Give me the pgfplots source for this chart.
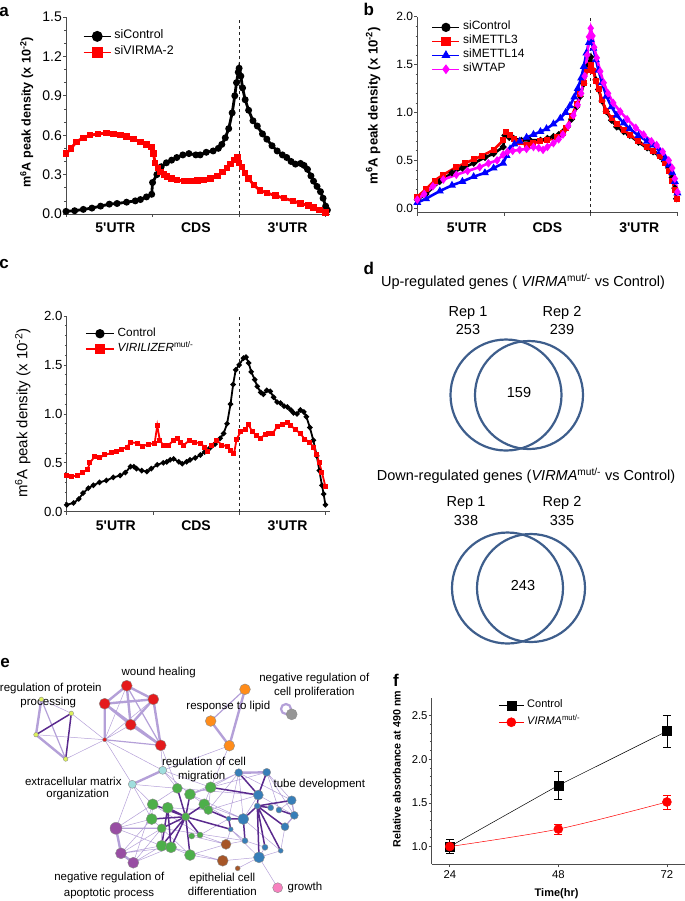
\documentclass[border=0pt]{standalone}
\usepackage{fontspec}
\setmainfont{Liberation Sans}[Ligatures=TeXOff]
\usepackage{pgfplots}
\pgfplotsset{compat=1.18}

\newcommand\fs[1]{\fontsize{#1bp}{#1bp}\selectfont}

\definecolor{sired}{RGB}{255,0,0}
\definecolor{siblue}{RGB}{0,0,255}
\definecolor{simag}{RGB}{255,0,255}
\definecolor{venn}{RGB}{62,94,140}
\definecolor{lpur}{RGB}{180,160,216}
\definecolor{dpur}{RGB}{90,42,142}
\definecolor{nred}{RGB}{228,26,28}
\definecolor{nyel}{RGB}{222,242,90}
\definecolor{nora}{RGB}{255,140,26}
\definecolor{ngray}{RGB}{150,150,150}
\definecolor{ncyan}{RGB}{160,222,222}
\definecolor{ngreen}{RGB}{77,175,74}
\definecolor{npurp}{RGB}{152,78,163}
\definecolor{nblue}{RGB}{55,126,184}
\definecolor{nbrown}{RGB}{166,86,40}
\definecolor{npink}{RGB}{247,129,191}

\tikzset{lbl/.style={inner sep=0pt, text height=0.72em, text depth=0pt, anchor=center}}

\pgfplotsset{
  panel/.style={scale only axis, axis lines*=left, clip=false,
    axis line style={black!70, line width=0.7bp},
    every tick/.append style={black!70, line width=0.7bp},
    tick align=outside, major tick length=3bp, minor tick length=1.8bp,
    /pgf/number format/assume math mode=true,
    legend cell align=left,
    yticklabel style={inner sep=1bp, /pgf/number format/fixed, /pgf/number format/fixed zerofill, /pgf/number format/precision=1}},
  utr/.style={xtick={0,1,2,3}, xticklabels={},
    extra x ticks={0.57,1.5,2.56}, extra x tick labels={5'UTR,CDS,3'UTR},
    extra x tick style={major tick length=0pt, grid=none,
      xticklabel style={font=\bfseries\fs{14}, lbl, yshift=-#1}}},
  leg/.style n args={4}{legend style={at={(axis description cs:#1,#2)}, anchor=north west,
    draw=none, fill=none, inner sep=0pt, row sep=#4, font=\fs{#3},
    nodes={inner sep=0.6bp, text height=0.72em, text depth=0.2em},
    /tikz/every odd column/.append style={column sep=2.5bp}}},
  limg/.style n args={3}{legend image code/.code={\draw[mark repeat=2,mark phase=2,##1,line width=#3,mark size=#2]
    plot coordinates {(0bp,0bp)(#1/2,0bp)(#1,0bp)};}},
  nn/.style 2 args={only marks, mark=*, mark size=#2bp, draw=black!45, fill=#1,
    mark options={draw=black!45, fill=#1, line width=0.4bp}}
}

\begin{document}
\begin{tikzpicture}
\path[use as bounding box] (0bp,0bp) rectangle (685bp,-901bp);

% ---------- a ----------
\begin{axis}[panel, utr=15bp, at={(66bp,-214bp)}, anchor=south west,
  width=264bp, height=197bp, xmin=0, xmax=3.05, ymin=0, ymax=1.5,
  ytick={0,0.3,0.6,0.9,1.2,1.5}, minor y tick num=2,
  yticklabel style={font=\fs{14}},
  ylabel={m\textsuperscript{6}A peak density (x 10\textsuperscript{-2})},
  ylabel style={font=\bfseries\fs{12.6}, at={(axis description cs:-0.149,0.515)}, anchor=center},
  leg={0.064}{0.929}{12.4}{5.5bp}, limg={27bp}{4.8bp}{1.3bp}]
\addplot[black!85, dashed, line width=0.8bp, forget plot] coordinates {(2,0)(2,1.5)};
\addplot[black, line width=2.8bp, mark=*, mark size=2bp, mark options={solid}] coordinates {
(0,0.02)(0.1,0.025)(0.2,0.035)(0.3,0.045)(0.4,0.06)(0.5,0.075)(0.59,0.08)(0.7,0.09)(0.8,0.10)
(0.86,0.11)(0.93,0.13)(0.99,0.15)(1.0,0.24)(1.05,0.30)(1.1,0.36)(1.16,0.39)(1.22,0.41)(1.28,0.43)
(1.35,0.45)(1.42,0.46)(1.5,0.45)(1.55,0.45)(1.62,0.47)(1.7,0.48)(1.76,0.50)(1.8,0.53)(1.84,0.58)
(1.88,0.65)(1.92,0.77)(1.95,0.90)(1.97,1.00)(1.99,1.08)(2.0,1.11)(2.02,1.05)(2.04,0.96)(2.07,0.87)
(2.11,0.79)(2.16,0.71)(2.21,0.67)(2.27,0.61)(2.32,0.57)(2.38,0.52)(2.44,0.48)(2.5,0.45)(2.55,0.43)
(2.6,0.40)(2.65,0.38)(2.71,0.385)(2.75,0.37)(2.79,0.34)(2.83,0.29)(2.86,0.25)(2.9,0.21)(2.94,0.17)
(2.97,0.12)(3.0,0.06)(3.02,0.03)};
\addplot[sired, line width=2.8bp, mark=square*, mark size=1.8bp, mark options={solid}] coordinates {
(0,0.46)(0.06,0.50)(0.12,0.55)(0.2,0.58)(0.28,0.60)(0.37,0.61)(0.47,0.615)(0.55,0.61)(0.63,0.60)
(0.7,0.59)(0.78,0.57)(0.86,0.55)(0.93,0.53)(0.99,0.51)(1.01,0.46)(1.03,0.39)(1.06,0.35)(1.09,0.32)
(1.13,0.30)(1.17,0.285)(1.22,0.27)(1.28,0.26)(1.36,0.25)(1.44,0.25)(1.52,0.255)(1.59,0.26)(1.67,0.27)
(1.75,0.29)(1.81,0.32)(1.86,0.35)(1.9,0.38)(1.94,0.41)(1.98,0.43)(2.0,0.39)(2.03,0.36)(2.07,0.31)
(2.11,0.27)(2.17,0.22)(2.24,0.18)(2.32,0.16)(2.42,0.14)(2.52,0.12)(2.62,0.10)(2.71,0.08)(2.8,0.065)
(2.86,0.05)(2.93,0.03)(3.0,0.01)};
\legend{siControl, siVIRMA-2}
\end{axis}

% ---------- b ----------
\begin{axis}[panel, utr=16.3bp, at={(417.3bp,-212.7bp)}, anchor=south west,
  width=261bp, height=196bp, xmin=0, xmax=3.01, ymin=-0.046, ymax=2.0,
  ytick={0,0.5,1,1.5,2}, minor y tick num=4,
  yticklabel style={font=\fs{12}},
  ylabel={m\textsuperscript{6}A peak density (x 10\textsuperscript{-2})},
  ylabel style={font=\bfseries\fs{13.2}, at={(axis description cs:-0.169,0.545)}, anchor=center},
  leg={0.055}{0.973}{12}{3.6bp}, limg={27bp}{4bp}{1.2bp}]
\addplot[black!85, dashed, line width=0.8bp, forget plot] coordinates {(2,-0.046)(2,2)};
\addplot[black, line width=2.6bp, mark=*, mark size=1.8bp, mark options={solid}] coordinates {
(0,0.09)(0.1,0.15)(0.26,0.28)(0.4,0.37)(0.52,0.42)(0.65,0.47)(0.78,0.53)(0.88,0.57)(0.99,0.64)
(1.01,0.76)(1.06,0.74)(1.11,0.73)(1.2,0.71)(1.3,0.71)(1.42,0.71)(1.5,0.73)(1.57,0.75)(1.63,0.77)
(1.68,0.80)(1.73,0.85)(1.78,0.93)(1.84,1.06)(1.88,1.17)(1.92,1.30)(1.96,1.48)(2.0,1.58)(2.03,1.44)
(2.06,1.34)(2.09,1.24)(2.13,1.12)(2.18,1.01)(2.24,0.92)(2.3,0.85)(2.38,0.80)(2.45,0.76)(2.55,0.69)
(2.65,0.63)(2.72,0.59)(2.8,0.54)(2.85,0.49)(2.9,0.42)(2.94,0.32)(2.97,0.21)(2.99,0.10)};
\addplot[sired, line width=2.6bp, mark=square*, mark size=1.7bp, mark options={solid}] coordinates {
(0,0.12)(0.1,0.20)(0.2,0.29)(0.3,0.35)(0.45,0.43)(0.55,0.47)(0.65,0.51)(0.75,0.55)(0.88,0.61)
(0.99,0.71)(1.02,0.80)(1.07,0.76)(1.12,0.72)(1.18,0.69)(1.26,0.66)(1.34,0.68)(1.42,0.70)(1.5,0.71)
(1.61,0.74)(1.68,0.79)(1.72,0.84)(1.78,0.96)(1.84,1.09)(1.88,1.19)(1.92,1.31)(1.96,1.44)(2.0,1.50)
(2.03,1.43)(2.06,1.33)(2.09,1.25)(2.13,1.13)(2.18,1.02)(2.24,0.94)(2.3,0.88)(2.38,0.82)(2.45,0.77)
(2.55,0.70)(2.65,0.64)(2.72,0.60)(2.8,0.55)(2.86,0.47)(2.9,0.39)(2.94,0.29)(2.97,0.19)(2.99,0.10)};
\addplot[siblue, line width=2.6bp, mark=triangle*, mark size=2bp, mark options={solid}] coordinates {
(0,0.06)(0.1,0.10)(0.26,0.18)(0.4,0.24)(0.52,0.28)(0.65,0.33)(0.78,0.37)(0.88,0.42)(0.99,0.47)
(1.03,0.55)(1.07,0.62)(1.12,0.67)(1.18,0.70)(1.26,0.74)(1.34,0.77)(1.42,0.80)(1.49,0.83)(1.57,0.88)
(1.65,0.94)(1.71,1.00)(1.76,1.07)(1.81,1.16)(1.85,1.25)(1.89,1.36)(1.92,1.48)(1.95,1.62)(1.98,1.73)
(2.0,1.76)(2.03,1.67)(2.06,1.55)(2.09,1.44)(2.13,1.31)(2.18,1.17)(2.24,1.06)(2.3,0.97)(2.38,0.89)
(2.45,0.83)(2.55,0.76)(2.65,0.70)(2.72,0.66)(2.8,0.59)(2.86,0.52)(2.9,0.45)(2.94,0.37)(2.97,0.28)(3.0,0.16)};
\addplot[simag, line width=2.6bp, mark=diamond*, mark size=2.2bp, mark options={solid}] coordinates {
(0,0.09)(0.08,0.15)(0.18,0.23)(0.3,0.30)(0.45,0.35)(0.58,0.39)(0.72,0.43)(0.82,0.47)(0.92,0.50)
(0.99,0.56)(1.04,0.59)(1.1,0.60)(1.18,0.61)(1.26,0.62)(1.34,0.64)(1.4,0.63)(1.45,0.61)(1.5,0.64)
(1.57,0.68)(1.63,0.72)(1.68,0.77)(1.74,0.86)(1.8,0.97)(1.85,1.08)(1.89,1.20)(1.93,1.38)(1.96,1.60)
(1.98,1.79)(2.0,1.88)(2.02,1.80)(2.04,1.68)(2.07,1.57)(2.11,1.43)(2.15,1.31)(2.2,1.20)(2.26,1.10)
(2.34,1.01)(2.42,0.93)(2.52,0.84)(2.61,0.77)(2.7,0.70)(2.76,0.66)(2.83,0.59)(2.9,0.50)(2.94,0.42)
(2.97,0.31)(3.0,0.17)};
\legend{siControl, siMETTL3, siMETTL14, siWTAP}
\end{axis}

% ---------- c ----------
\begin{axis}[panel, utr=15.6bp, at={(66.7bp,-511.7bp)}, anchor=south west,
  width=263bp, height=195.7bp, xmin=0, xmax=3.05, ymin=0, ymax=2.0,
  ytick={0,0.5,1,1.5,2}, minor y tick num=4,
  yticklabel style={font=\fs{13.2}},
  ylabel={m\textsuperscript{6}A peak density (x 10\textsuperscript{-2})},
  ylabel style={font=\fs{15}, at={(axis description cs:-0.167,0.504)}, anchor=center},
  leg={0.07}{0.937}{11.8}{5bp}, limg={28bp}{4bp}{1.3bp}]
\addplot[black!85, dashed, line width=0.8bp, forget plot] coordinates {(2,0)(2,2)};
\addplot[black, line width=1.8bp, mark=*, mark size=1.7bp, mark options={solid}] coordinates {
(0,0.07)(0.08,0.09)(0.14,0.13)(0.19,0.19)(0.25,0.24)(0.31,0.27)(0.38,0.30)(0.46,0.32)(0.54,0.35)
(0.62,0.37)(0.68,0.40)(0.74,0.46)(0.78,0.46)(0.81,0.44)(0.87,0.42)(0.93,0.41)(0.98,0.44)(1.05,0.48)
(1.12,0.50)(1.16,0.51)(1.2,0.53)(1.24,0.54)(1.3,0.51)(1.34,0.49)(1.39,0.51)(1.43,0.53)(1.49,0.55)
(1.55,0.58)(1.6,0.61)(1.66,0.65)(1.72,0.69)(1.78,0.75)(1.82,0.80)(1.86,0.90)(1.9,1.10)(1.93,1.30)
(1.96,1.45)(2.0,1.50)(2.05,1.57)(2.08,1.58)(2.11,1.52)(2.14,1.43)(2.18,1.35)(2.21,1.28)(2.25,1.22)
(2.28,1.20)(2.32,1.24)(2.36,1.23)(2.4,1.17)(2.44,1.12)(2.48,1.11)(2.52,1.08)(2.56,1.07)(2.6,1.04)
(2.63,1.01)(2.67,1.00)(2.71,1.04)(2.75,1.02)(2.78,0.97)(2.82,0.86)(2.86,0.73)(2.9,0.57)(2.93,0.42)
(2.96,0.27)(2.98,0.18)(3.0,0.07)};
\addplot[sired, line width=1.8bp, mark=square*, mark size=1.6bp, mark options={solid}] coordinates {
(0,0.37)(0.06,0.36)(0.12,0.37)(0.18,0.40)(0.24,0.43)(0.27,0.50)(0.32,0.56)(0.38,0.55)(0.44,0.58)
(0.52,0.60)(0.58,0.62)(0.64,0.64)(0.7,0.66)(0.74,0.71)(0.82,0.70)(0.88,0.67)(0.95,0.69)(1.02,0.70)
(1.05,0.88)(1.08,0.73)(1.12,0.68)(1.18,0.68)(1.24,0.73)(1.28,0.75)(1.32,0.71)(1.36,0.68)(1.42,0.73)
(1.48,0.71)(1.55,0.70)(1.6,0.66)(1.63,0.62)(1.68,0.68)(1.74,0.73)(1.8,0.68)(1.86,0.67)(1.9,0.63)
(1.94,0.59)(1.97,0.74)(2.02,0.82)(2.07,0.84)(2.11,0.89)(2.15,0.82)(2.2,0.78)(2.25,0.75)(2.3,0.79)
(2.34,0.80)(2.39,0.80)(2.44,0.87)(2.5,0.89)(2.56,0.91)(2.6,0.88)(2.65,0.84)(2.71,0.80)(2.76,0.74)
(2.82,0.71)(2.86,0.66)(2.9,0.58)(2.93,0.50)(2.96,0.40)(3.0,0.26)};
\legend{Control, \textit{VIRILIZER}\textsuperscript{mut/-}}
\end{axis}

% ---------- f ----------
\begin{axis}[panel, at={(431.7bp,-864bp)}, anchor=south west,
  width=253.3bp, height=166bp, xmin=20, xmax=76, ymin=0.8, ymax=2.7,
  xtick={24,48,72}, ytick={1,1.5,2,2.5}, minor y tick num=4,
  tick label style={font=\fs{11.3}},
  ylabel={Relative absorbance at 490 nm},
  ylabel style={font=\bfseries\fs{10.7}, at={(axis description cs:-0.138,0.572)}, anchor=center},
  xlabel={Time(hr)},
  xlabel style={font=\bfseries\fs{11}, at={(axis description cs:0.493,-0.177)}, anchor=center},
  leg={0.263}{0.988}{11}{6.5bp}, limg={25bp}{4.5bp}{0.6bp}]
\addplot[black, line width=0.5bp, mark=square*, mark size=4.5bp, mark options={solid},
  error bars/.cd, y dir=both, y explicit, error bar style={line width=0.6bp},
  error mark options={rotate=90, line width=0.6bp, mark size=4bp}] coordinates {
(24,1.00) +- (0,0.08) (48,1.70) +- (0,0.16) (72,2.32) +- (0,0.18)};
\addplot[sired, line width=0.5bp, smooth, mark=*, mark size=4.5bp, mark options={solid},
  error bars/.cd, y dir=both, y explicit, error bar style={line width=0.6bp},
  error mark options={rotate=90, line width=0.6bp, mark size=4bp}] coordinates {
(24,1.00) +- (0,0.05) (48,1.20) +- (0,0.06) (72,1.51) +- (0,0.08)};
\legend{Control, \textit{VIRMA}\textsuperscript{mut/-}}
\end{axis}

% ---------- d, e and panel letters (pixel frame) ----------
\begin{axis}[at={(0bp,0bp)}, anchor=north west, scale only axis,
  width=685bp, height=901bp, xmin=0, xmax=685, ymin=0, ymax=901,
  y dir=reverse, hide axis, clip=false, unbounded coords=jump]
% Venn circles
\addplot[only marks, mark=o, mark size=55.5bp, mark options={line width=2.2bp, draw=venn}]
  coordinates {(506,395)(507.5,588)};
\addplot[only marks, mark=o, mark size=54bp, mark options={line width=2.2bp, draw=venn}]
  coordinates {(529,395)(531,588)};
% network edges: thin
\addplot[lpur, line width=0.5bp] coordinates {
(104.7,739.7)(71.3,713.3) (nan,nan) (104.7,739.7)(36,734.7) (nan,nan) (104.7,739.7)(65.7,759) (nan,nan)
(104.7,739.7)(126.7,685.7) (nan,nan) (104.7,739.7)(130.7,724.7) (nan,nan) (104.7,739.7)(153.3,699.3) (nan,nan)
(104.7,739.7)(132.3,784.3) (nan,nan) (104.7,739.7)(162.7,770.3) (nan,nan) (41.3,699.3)(71.3,713.3) (nan,nan)
(160.7,745.3)(177.3,788.3) (nan,nan) (160.7,745.3)(162.7,770.3) (nan,nan) (229.3,745.7)(210.7,787.3) (nan,nan)
(229.3,745.7)(162.7,770.3) (nan,nan) (132.3,784.3)(152.7,804.3) (nan,nan) (132.3,784.3)(151.7,819) (nan,nan)
(132.3,784.3)(177.3,788.3) (nan,nan) (162.7,770.3)(177.3,788.3) (nan,nan) (162.7,770.3)(210.7,787.3) (nan,nan)
(162.7,770.3)(190,794.3) (nan,nan) (116,828.3)(152.7,804.3) (nan,nan) (116,828.3)(151.7,819) (nan,nan)
(116,828.3)(161.7,828.3) (nan,nan) (116,828.3)(161.7,845.7) (nan,nan) (121,853.3)(161.7,845.7) (nan,nan)
(121,853.3)(161.7,828.3) (nan,nan) (121,853.3)(151.7,819) (nan,nan) (133.3,862.7)(161.7,845.7) (nan,nan)
(133.3,862.7)(171,847.3) (nan,nan) (133.3,862.7)(152.7,804.3) (nan,nan) (116,828.3)(132.3,784.3) (nan,nan)
(190,855)(226,844.3) (nan,nan) (171,847.3)(222.7,860.7) (nan,nan) (200,835)(226,844.3) (nan,nan)
(226,844.3)(230.7,829.3) (nan,nan) (226,844.3)(245,840.7) (nan,nan) (222.7,860.7)(259,857.3) (nan,nan)
(237.7,868.3)(259,857.3) (nan,nan) (277.7,887.7)(259,857.3) (nan,nan) (210.7,787.3)(238.7,772.7) (nan,nan)
(190,794.3)(243.3,819) (nan,nan) (204.3,804.3)(228.7,818.7) (nan,nan) (208.3,810)(238.7,772.7) (nan,nan)
(161.7,828.3)(245,840.7) (nan,nan) (191.7,836)(226,844.3) (nan,nan) (177.3,788.3)(258.3,795) (nan,nan)
(204.3,804.3)(243.3,819) (nan,nan) (210.7,787.3)(204.3,804.3) (nan,nan) (210.7,787.3)(208.3,810) (nan,nan)
(177.3,788.3)(152.7,804.3) (nan,nan) (190,794.3)(204.3,804.3) (nan,nan) (152.7,804.3)(151.7,819) (nan,nan)
(151.7,819)(161.7,828.3) (nan,nan) (161.7,845.7)(171,847.3) (nan,nan) (171,847.3)(190,855) (nan,nan)
(161.7,828.3)(161.7,845.7) (nan,nan) (191.7,836)(200,835) (nan,nan) (238.7,772.7)(228.7,818.7) (nan,nan)
(266.7,772.3)(291.7,800.3) (nan,nan) (291.7,800.3)(279,810) (nan,nan) (285,826.7)(280.7,850.7) (nan,nan)
(245,840.7)(265,847.3) (nan,nan) (265,847.3)(259,857.3) (nan,nan) (280.7,850.7)(259,857.3) (nan,nan)
(294.3,815.3)(285,826.7) (nan,nan) (266.7,772.3)(279,810) (nan,nan) (230.7,829.3)(245,840.7) (nan,nan)
(258.3,795)(243.3,819) (nan,nan) (238.7,772.7)(243.3,819) (nan,nan) (266.7,772.3)(294.3,815.3) (nan,nan)
(151.7,819)(190,855) (nan,nan) (152.7,804.3)(200,835) (nan,nan) (167.7,807.7)(208.3,810) (nan,nan)
(190,794.3)(238.7,772.7) (nan,nan) (208.3,810)(258.3,795) (nan,nan) (200,835)(228.7,818.7) (nan,nan)
(190,855)(222.7,860.7) (nan,nan) (238.7,772.7)(291.7,800.3) (nan,nan) (243.3,819)(280.7,850.7) (nan,nan)
(258.3,795)(294.3,815.3) (nan,nan) (230.7,829.3)(259,857.3) (nan,nan) (116,828.3)(177.3,788.3) (nan,nan)
(121,853.3)(171,847.3) (nan,nan) (133.3,862.7)(161.7,828.3) (nan,nan) (210.7,787.3)(266.7,772.3)};
% network edges: medium and thick light
\addplot[lpur, line width=1.2bp] coordinates {
(126.7,685.7)(160.7,745.3) (nan,nan) (104.7,739.7)(160.7,745.3) (nan,nan) (41.3,699.3)(65.7,759) (nan,nan)
(266.7,772.3)(258.3,795) (nan,nan) (116,828.3)(161.7,828.3) (nan,nan) (291.7,800.3)(294.3,815.3) (nan,nan)
(245,689.3)(210.7,721) (nan,nan) (190,794.3)(210.7,787.3) (nan,nan) (285,826.7)(294.3,815.3)};
\addplot[lpur, line width=2.4bp] coordinates {
(126.7,685.7)(153.3,699.3) (nan,nan) (126.7,685.7)(104.7,703.7) (nan,nan) (126.7,685.7)(130.7,724.7) (nan,nan)
(153.3,699.3)(130.7,724.7) (nan,nan) (104.7,703.7)(130.7,724.7) (nan,nan) (153.3,699.3)(160.7,745.3) (nan,nan)
(130.7,724.7)(160.7,745.3) (nan,nan) (104.7,703.7)(160.7,745.3) (nan,nan) (104.7,703.7)(153.3,699.3) (nan,nan)
(104.7,703.7)(104.7,739.7) (nan,nan) (41.3,699.3)(36,734.7) (nan,nan) (36,734.7)(65.7,759) (nan,nan)
(245,689.3)(229.3,745.7) (nan,nan) (210.7,721)(229.3,745.7) (nan,nan) (162.7,770.3)(132.3,784.3) (nan,nan)
(238.7,772.7)(266.7,772.3) (nan,nan) (116,828.3)(121,853.3) (nan,nan) (121,853.3)(133.3,862.7)};
\addplot[only marks, mark=o, mark size=5bp, mark options={lpur, line width=2.2bp}] coordinates {(286,709)};
% network edges: dark
\addplot[dpur, line width=1.5bp] coordinates {
(71.3,713.3)(65.7,759) (nan,nan) (71.3,713.3)(36,734.7) (nan,nan)
(185.7,816.7)(177.3,788.3) (nan,nan) (185.7,816.7)(190,794.3) (nan,nan) (185.7,816.7)(152.7,804.3) (nan,nan)
(185.7,816.7)(167.7,807.7) (nan,nan) (185.7,816.7)(151.7,819) (nan,nan) (185.7,816.7)(161.7,828.3) (nan,nan)
(185.7,816.7)(161.7,845.7) (nan,nan) (185.7,816.7)(171,847.3) (nan,nan) (185.7,816.7)(200,835) (nan,nan)
(185.7,816.7)(190,855) (nan,nan) (185.7,816.7)(204.3,804.3) (nan,nan) (167.7,807.7)(161.7,845.7) (nan,nan)
(167.7,807.7)(171,847.3) (nan,nan) (210.7,787.3)(258.3,795) (nan,nan) (185.7,816.7)(230.7,829.3) (nan,nan)
(208.3,810)(228.7,818.7) (nan,nan) (238.7,772.7)(258.3,795) (nan,nan) (266.7,772.3)(258.3,795) (nan,nan)
(258.3,795)(257.3,806) (nan,nan) (257.3,806)(243.3,819) (nan,nan) (257.3,806)(291.7,800.3) (nan,nan)
(257.3,806)(285,826.7) (nan,nan) (257.3,806)(265,847.3) (nan,nan) (257.3,806)(259,857.3) (nan,nan)
(243.3,819)(245,840.7) (nan,nan) (257.3,806)(280.7,850.7) (nan,nan) (279,810)(294.3,815.3) (nan,nan)
(228.7,818.7)(230.7,829.3) (nan,nan) (257.3,806)(270.7,807.7) (nan,nan) (243.3,819)(228.7,818.7)};
% network nodes
\addplot[nn={nred}{5.5}] coordinates {(126.7,685.7)(153.3,699.3)(104.7,703.7)(130.7,724.7)(160.7,745.3)};
\addplot[nn={nred}{2}] coordinates {(104.7,739.7)};
\addplot[nn={nyel}{2.3}] coordinates {(41.3,699.3)(71.3,713.3)(36,734.7)(65.7,759)};
\addplot[nn={nora}{5.4}] coordinates {(245,689.3)(210.7,721)(229.3,745.7)};
\addplot[nn={ngray}{5.5}] coordinates {(291.7,714.3)};
\addplot[nn={ncyan}{4}] coordinates {(162.7,770.3)(132.3,784.3)};
\addplot[nn={ngreen}{5.5}] coordinates {(190,794.3)(210.7,787.3)(152.7,804.3)(167.7,807.7)(204.3,804.3)
  (151.7,819)(161.7,845.7)(171,847.3)(190,855)};
\addplot[nn={ngreen}{5}] coordinates {(177.3,788.3)};
\addplot[nn={ngreen}{4.5}] coordinates {(208.3,810)(161.7,828.3)};
\addplot[nn={ngreen}{4}] coordinates {(185.7,816.7)};
\addplot[nn={ngreen}{3}] coordinates {(191.7,836)(200,835)};
\addplot[nn={npurp}{6}] coordinates {(116,828.3)};
\addplot[nn={npurp}{5.5}] coordinates {(121,853.3)(133.3,862.7)};
\addplot[nn={nblue}{5.5}] coordinates {(243.3,819)(259,857.3)};
\addplot[nn={nblue}{5}] coordinates {(258.3,795)};
\addplot[nn={nblue}{4.5}] coordinates {(291.7,800.3)};
\addplot[nn={nblue}{4}] coordinates {(238.7,772.7)(266.7,772.3)(294.3,815.3)(285,826.7)};
\addplot[nn={nblue}{3}] coordinates {(257.3,806)(270.7,807.7)(245,840.7)(265,847.3)(279,810)};
\addplot[nn={nblue}{2.5}] coordinates {(228.7,818.7)(230.7,829.3)(280.7,850.7)};
\addplot[nn={nbrown}{5.5}] coordinates {(222.7,860.7)};
\addplot[nn={nbrown}{5}] coordinates {(226,844.3)};
\addplot[nn={nbrown}{2.5}] coordinates {(237.7,868.3)};
\addplot[nn={npink}{5}] coordinates {(277.7,887.7)};
% network labels
\begin{scope}[every node/.style={lbl, font=\fs{11.5}}]
\node at (axis cs:158.7,672.3) {wound healing};
\node at (axis cs:50.8,687.7) {regulation of protein};
\node at (axis cs:48.3,702.3) {processing};
\node at (axis cs:314.3,677.7) {negative regulation of};
\node at (axis cs:314.3,691.7) {cell proliferation};
\node at (axis cs:228.3,706) {response to lipid};
\node at (axis cs:204,762) {regulation of cell};
\node at (axis cs:201.7,776) {migration};
\node at (axis cs:73.3,782) {extracellular matrix};
\node at (axis cs:77.7,794.3) {organization};
\node at (axis cs:319.3,783.7) {tube development};
\node at (axis cs:109.3,877.3) {negative regulation of};
\node at (axis cs:109,892.7) {apoptotic process};
\node at (axis cs:222.3,878.3) {epithelial cell};
\node at (axis cs:222.3,892.3) {differentiation};
\node at (axis cs:305,886.7) {growth};
\end{scope}
% Venn labels
\begin{scope}[every node/.style={lbl, font=\fs{14.5}}]
\node at (axis cs:523,283) {Up-regulated genes ( \textit{VIRMA}\textsuperscript{mut/-} vs Control)};
\node at (axis cs:468,312.7) {Rep 1};
\node at (axis cs:468,331) {253};
\node at (axis cs:562,312.7) {Rep 2};
\node at (axis cs:562,331) {239};
\node at (axis cs:519,394) {159};
\node at (axis cs:526,477) {Down-regulated genes (\textit{VIRMA}\textsuperscript{mut/-} vs Control)};
\node at (axis cs:466,503) {Rep 1};
\node at (axis cs:466,522) {338};
\node at (axis cs:562,503) {Rep 2};
\node at (axis cs:562,522) {335};
\node at (axis cs:523,587) {243};
\end{scope}
% panel letters
\begin{scope}[every node/.style={anchor=base, inner sep=0pt, font=\bfseries\fs{17}}]
\node at (axis cs:4,16) {a};
\node at (axis cs:368.7,15) {b};
\node at (axis cs:4,268.3) {c};
\node at (axis cs:368.7,274) {d};
\node at (axis cs:5,667.3) {e};
\node at (axis cs:396,686.7) {f};
\end{scope}
\end{axis}
\end{tikzpicture}
\end{document}
